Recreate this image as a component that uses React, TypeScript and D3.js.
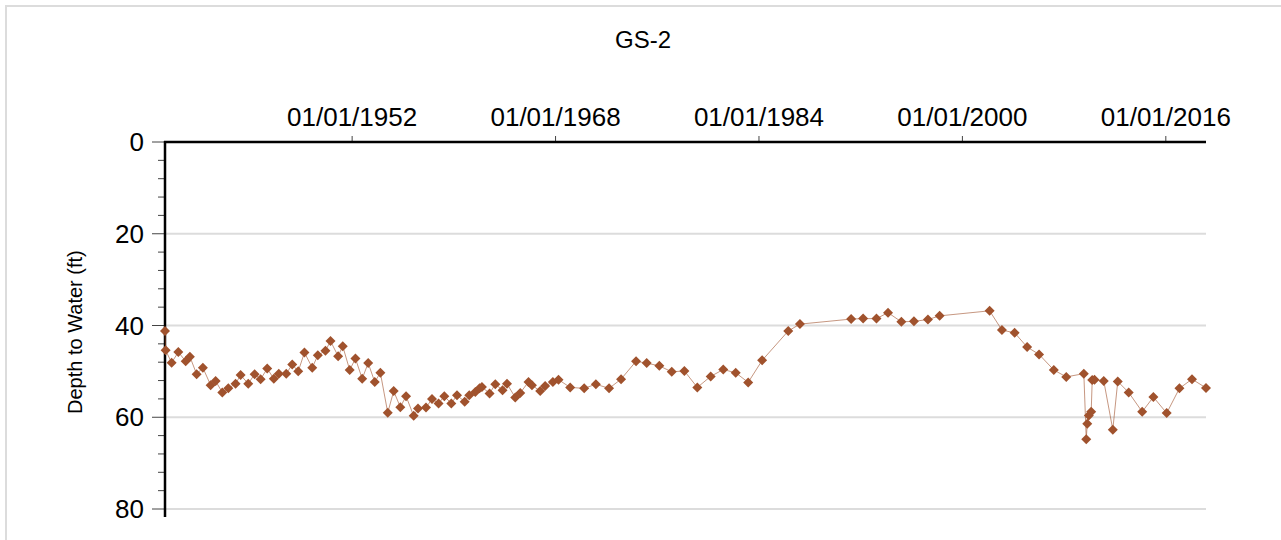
import React from "react";
import { scaleLinear, scaleTime, line, symbol, symbolSquare, range } from "d3";

// sample dates as decimal years, depth to water in ft
const sampleYears = [
	1937.28, 1937.33, 1937.80, 1938.33, 1938.91, 1939.24, 1939.77, 1940.26, 1940.87, 1941.26,
	1941.79, 1942.26, 1942.83, 1943.23, 1943.83, 1944.33, 1944.80, 1945.32, 1945.84, 1946.23,
	1946.82, 1947.29, 1947.76, 1948.25, 1948.86, 1949.30, 1949.90, 1950.30, 1950.90, 1951.26,
	1951.81, 1952.26, 1952.79, 1953.26, 1953.78, 1954.22, 1954.80, 1955.27, 1955.79, 1956.24,
	1956.84, 1957.18, 1957.81, 1958.28, 1958.80, 1959.25, 1959.80, 1960.25, 1960.85, 1961.21,
	1961.69, 1962.02, 1962.21, 1962.81, 1963.26, 1963.83, 1964.18, 1964.83, 1965.22, 1965.87,
	1966.14, 1966.79, 1967.18, 1967.79, 1968.23, 1969.15, 1970.25, 1971.17, 1972.21, 1973.15,
	1974.33, 1975.17, 1976.16, 1977.14, 1978.13, 1979.15, 1980.20, 1981.19, 1982.17, 1983.15,
	1984.25, 1986.30, 1987.22, 1991.25, 1992.19, 1993.24, 1994.15, 1995.20, 1996.19, 1997.29,
	1998.21, 2002.14, 2003.11, 2004.11, 2005.09, 2006.03, 2007.19, 2008.17, 2009.55, 2009.74,
	2009.82, 2009.94, 2010.13, 2010.21, 2010.39, 2011.12, 2011.83, 2012.22, 2013.08, 2014.14,
	2015.02, 2016.07, 2017.07, 2018.06, 2019.16
];

const depths = [
	41.2, 45.4, 48.1, 45.8, 47.8, 46.8, 50.6, 49.2, 53.0, 52.1,
	54.6, 53.7, 52.7, 50.8, 52.7, 50.6, 51.7, 49.4, 51.6, 50.5,
	50.5, 48.5, 50.0, 45.9, 49.2, 46.5, 45.5, 43.4, 46.7, 44.5,
	49.7, 47.2, 51.6, 48.2, 52.3, 50.3, 59.0, 54.3, 57.8, 55.4,
	59.7, 58.1, 57.9, 56.0, 57.0, 55.4, 57.0, 55.2, 56.6, 55.2,
	54.5, 53.7, 53.4, 54.8, 52.8, 54.1, 52.7, 55.7, 54.7, 52.3,
	53.0, 54.3, 53.2, 52.3, 51.8, 53.5, 53.7, 52.8, 53.7, 51.7,
	47.8, 48.2, 48.8, 50.1, 49.9, 53.5, 51.1, 49.6, 50.3, 52.4,
	47.6, 41.2, 39.7, 38.6, 38.5, 38.5, 37.2, 39.2, 39.1, 38.7,
	37.9, 36.8, 41.0, 41.6, 44.7, 46.3, 49.7, 51.2, 50.5, 64.8,
	61.4, 59.6, 58.8, 51.9, 51.8, 52.1, 62.7, 52.2, 54.6, 58.8,
	55.6, 59.1, 53.7, 51.7, 53.6
];

const dateTickYears = [1952, 1968, 1984, 2000, 2016];
const depthTicks = [0, 20, 40, 60, 80];

const yearToDate = (v: number) => {
	const y = Math.floor(v);
	const start = new Date(y, 0, 1).getTime();
	const end = new Date(y + 1, 0, 1).getTime();
	return new Date(start + (v - y) * (end - start));
};

const fmtTick = (y: number) => `01/01/${y}`;

const W = 1281;
const H = 540;
const plot = { left: 165, right: 1206, top: 142, bottom: 509 };
const font = "'Liberation Sans', Arial, Helvetica, sans-serif";
const markerColor = "#a0522d";

export default function App() {
	const points = sampleYears.map((y, i) => ({ date: yearToDate(y), depth: depths[i] }));

	const x = scaleTime()
		.domain([points[0].date, points[points.length - 1].date])
		.range([plot.left, plot.right]);
	const y = scaleLinear().domain([0, 80]).range([plot.top, plot.bottom]);

	const path = line<{ date: Date; depth: number }>()
		.x((d) => x(d.date))
		.y((d) => y(d.depth))(points) || "";

	const marker = symbol(symbolSquare, 50)() || "";
	const minorTicks = range(0, 81, 4).filter((v) => v % 20 !== 0);

	return (
		<svg width={W} height={H} style={{ position: "absolute", left: 0, top: 0, background: "#fff" }} fontFamily={font}>
			<rect x={6} y={6} width={W + 20} height={H + 20} fill="none" stroke="#dcdcdc" strokeWidth={2} />

			<text x={643} y={48} textAnchor="middle" fontSize={24} fill="#000">GS-2</text>

			{/* gridlines */}
			{depthTicks.filter((d) => d > 0).map((d) => (
				<line key={d} x1={plot.left} x2={plot.right} y1={y(d)} y2={y(d)} stroke="#dcdcdc" strokeWidth={2} />
			))}

			{/* y axis */}
			{depthTicks.map((d) => (
				<g key={d}>
					<line x1={152} x2={plot.left} y1={y(d)} y2={y(d)} stroke="#444" strokeWidth={1} />
					<text x={144} y={y(d)} dy="0.35em" textAnchor="end" fontSize={26} fill="#000">{d}</text>
				</g>
			))}
			{minorTicks.map((d) => (
				<line key={d} x1={158} x2={plot.left} y1={y(d)} y2={y(d)} stroke="#444" strokeWidth={1} />
			))}
			<line x1={plot.left} x2={plot.left} y1={plot.top - 1} y2={517} stroke="#000" strokeWidth={2.5} />

			{/* x axis on top */}
			{dateTickYears.map((yr) => {
				const tx = x(new Date(yr, 0, 1));
				return (
					<g key={yr}>
						<line x1={tx} x2={tx} y1={plot.top - 6} y2={plot.top} stroke="#444" strokeWidth={1} />
						<text x={tx} y={126} textAnchor="middle" fontSize={26} fill="#000">{fmtTick(yr)}</text>
					</g>
				);
			})}
			<line x1={plot.left - 1} x2={plot.right} y1={plot.top} y2={plot.top} stroke="#000" strokeWidth={2.5} />

			<text
				transform={`translate(82, 414) rotate(-90)`}
				textAnchor="start"
				fontSize={20}
				fill="#000"
			>
				Depth to Water (ft)
			</text>

			{/* series */}
			<path d={path} fill="none" stroke={markerColor} strokeOpacity={0.6} strokeWidth={1} />
			{points.map((p, i) => (
				<path
					key={i}
					d={marker}
					transform={`translate(${x(p.date)}, ${y(p.depth)}) rotate(45)`}
					fill={markerColor}
				/>
			))}
		</svg>
	);
}
